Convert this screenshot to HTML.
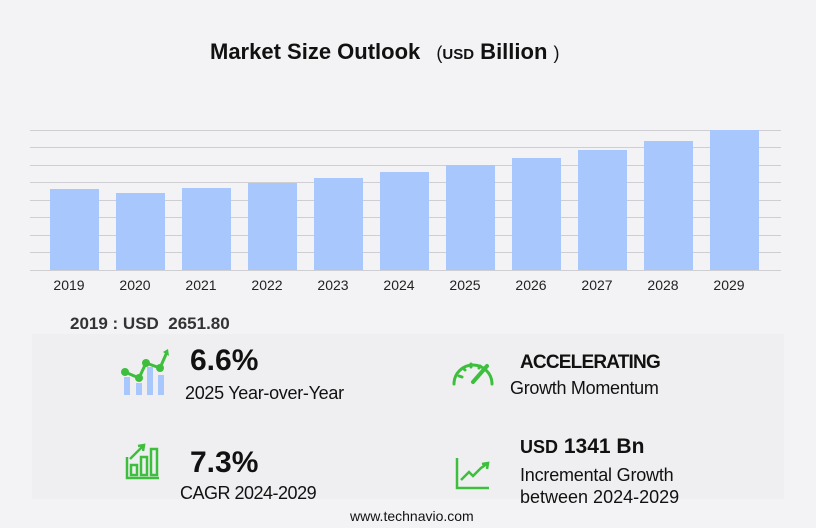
<!DOCTYPE html>
<html><head><style>
body{margin:0;width:816px;height:528px;background:#f3f3f5;font-family:"Liberation Sans",sans-serif;position:relative;overflow:hidden}
.t{position:absolute;white-space:nowrap;color:#111}
</style></head><body>
<div class="t" style="left:210px;top:39px;font-size:22px;font-weight:bold">Market Size Outlook <span style="font-size:18px;font-weight:normal">&nbsp;&nbsp;(</span><span style="font-size:15px">USD</span> Billion <span style="font-size:18px;font-weight:normal">)</span></div>
<svg style="position:absolute;left:0;top:0" width="816" height="300">
<g stroke="#cfcfd3" stroke-width="1">
<line x1="30" x2="781" y1="130.5" y2="130.5"/><line x1="30" x2="781" y1="147.5" y2="147.5"/><line x1="30" x2="781" y1="165.5" y2="165.5"/><line x1="30" x2="781" y1="182.5" y2="182.5"/><line x1="30" x2="781" y1="200.5" y2="200.5"/><line x1="30" x2="781" y1="217.5" y2="217.5"/><line x1="30" x2="781" y1="235.5" y2="235.5"/><line x1="30" x2="781" y1="252.5" y2="252.5"/><line x1="30" x2="781" y1="270.5" y2="270.5"/>
</g>
<g fill="#a8c8fd">
<rect x="50" y="189" width="49" height="81"/><rect x="116" y="193" width="49" height="77"/><rect x="182" y="188" width="49" height="82"/><rect x="248" y="183" width="49" height="87"/><rect x="314" y="178" width="49" height="92"/><rect x="380" y="172" width="49" height="98"/><rect x="446" y="165" width="49" height="105"/><rect x="512" y="158" width="49" height="112"/><rect x="578" y="150" width="49" height="120"/><rect x="644" y="141" width="49" height="129"/><rect x="710" y="130" width="49" height="140"/>
</g>
<g font-size="14" fill="#222" text-anchor="middle" font-family="Liberation Sans">
<text x="69" y="290">2019</text><text x="135" y="290">2020</text><text x="201" y="290">2021</text><text x="267" y="290">2022</text><text x="333" y="290">2023</text><text x="399" y="290">2024</text><text x="465" y="290">2025</text><text x="531" y="290">2026</text><text x="597" y="290">2027</text><text x="663" y="290">2028</text><text x="729" y="290">2029</text>
</g>
</svg>
<div class="t" style="left:70px;top:314px;font-size:17px;font-weight:bold;color:#333">2019 : USD &nbsp;2651.80</div>
<div style="position:absolute;left:32px;top:334px;width:752px;height:165px;background:#efeff1"></div>
<svg style="position:absolute;left:0;top:340px" width="816" height="160">
<g fill="#a8c8fd"><rect x="124" y="37" width="6" height="18"/><rect x="136" y="43" width="6" height="12"/><rect x="147" y="27" width="6" height="28"/><rect x="158" y="35" width="6" height="20"/></g>
<polyline points="125,32 139,38 146,23 160,28 167,12" fill="none" stroke="#3dbf3d" stroke-width="3"/>
<g fill="#3dbf3d"><circle cx="125" cy="32" r="4"/><circle cx="139" cy="38" r="4"/><circle cx="146" cy="23" r="4"/><circle cx="160" cy="28" r="4"/><path d="M163,12 L168,9 L169,16Z"/></g>
<g fill="none" stroke="#3dbf3d" stroke-width="3" stroke-linecap="round">
<path d="M454,44 A19,19 0 1 1 492,44"/><line x1="473" y1="42" x2="487" y2="26" stroke-width="4"/>
<line x1="459" y1="36" x2="462" y2="37"/><line x1="463" y1="28" x2="465" y2="30"/><line x1="471" y1="24" x2="471" y2="27"/><line x1="480" y1="26" x2="479" y2="28"/>
</g>
<g fill="none" stroke="#3dbf3d" stroke-width="2.5">
<polyline points="127,117 127,138 159,138"/><rect x="131" y="125" width="6" height="10"/><rect x="141" y="117" width="6" height="18"/><rect x="151" y="109" width="6" height="26"/><polyline points="130,119 143,106"/><polyline points="138,106 144,105 143,111"/>
<polyline points="457,118 457,148 489,148"/><polyline points="461,140 469,132 473,136 481,128 487,124"/><polyline points="482,124 488,123 487,129"/>
</g>
</svg>
<div class="t" style="left:190px;top:344px;font-size:30px;font-weight:bold">6.6%</div>
<div class="t" style="left:185px;top:383px;font-size:18px;letter-spacing:-0.3px">2025 Year-over-Year</div>
<div class="t" style="left:190px;top:446px;font-size:30px;font-weight:bold">7.3%</div>
<div class="t" style="left:180px;top:483px;font-size:18px;letter-spacing:-0.5px">CAGR 2024-2029</div>
<div class="t" style="left:520px;top:352px;font-size:19px;font-weight:bold;letter-spacing:-0.8px">ACCELERATING</div>
<div class="t" style="left:510px;top:378px;font-size:18px;letter-spacing:-0.3px">Growth Momentum</div>
<div class="t" style="left:520px;top:435px;font-size:21px;font-weight:bold"><span style="font-size:18px">USD</span> 1341 Bn</div>
<div class="t" style="left:520px;top:465px;font-size:18px;letter-spacing:-0.2px">Incremental Growth</div>
<div class="t" style="left:520px;top:487px;font-size:18px">between 2024-2029</div>
<div class="t" style="left:350px;top:508px;font-size:14px">www.technavio.com</div>
</body></html>
